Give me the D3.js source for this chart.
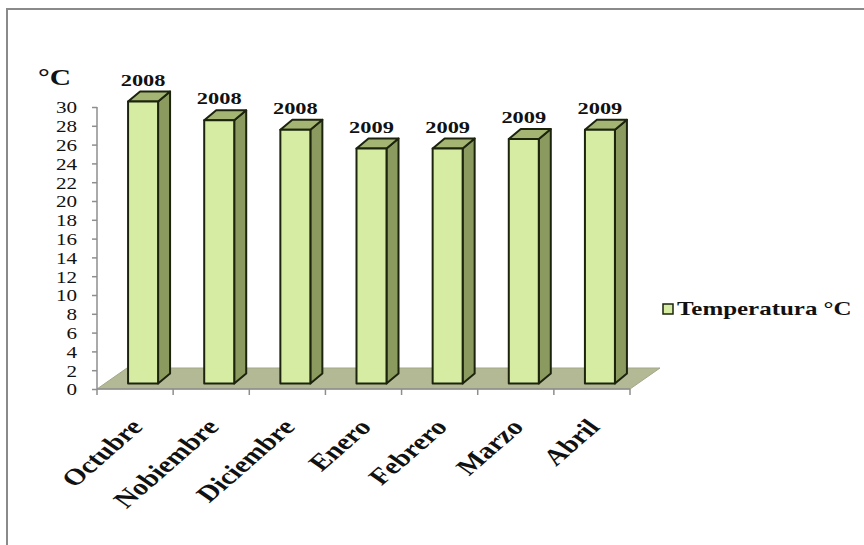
<!DOCTYPE html>
<html>
  <head>
    <meta charset="utf-8">
    <script src="https://d3js.org/d3.v7.min.js"></script>
    <style>
    body {
      margin: 0;
      background-color: #fff;
    }
    svg {
      display: block;
      font-family: "Liberation Serif", "Times New Roman", serif;
    }
    </style>
  </head>
  <body>
    <script>
      // data
      let months = ['Octubre', 'Nobiembre', 'Diciembre', 'Enero', 'Febrero', 'Marzo', 'Abril']
      let years = ['2008', '2008', '2008', '2009', '2009', '2009', '2009']
      let temps = [30, 28, 27, 25, 25, 26, 27]
      let yTicks = d3.range(0, 31, 2)
      let seriesName = 'Temperatura °C'
      let unitLabel = '°C'

      let w = 864
      let h = 545
      let sx = 1.28   // the original picture is stretched sideways
      let frontCol = '#d6eca2', sideCol = '#8b9a5f', topCol = '#a4b473'
      let floorCol = '#b3b895', edge = '#1c240e', axisCol = '#8e8e8e'

      let svg = d3.select('body').append('svg')
                  .attr('width', w)
                  .attr('height', h)

      // frame
      svg.append('rect')
         .attr('x', 7).attr('y', 9)
         .attr('width', 900).attr('height', 600)
         .attr('fill', '#fff')
         .attr('stroke', '#8a8a8a')
         .attr('stroke-width', 2)

      let x0 = 97, x1 = 630, y0 = 389, y1 = 107
      let floorD = [30, -21]
      let barD = [12, -10]
      let off = [8, -5.5]

      let xScale = d3.scaleBand()
                     .domain(months)
                     .range([x0, x1])
                     .paddingInner(0.606)
                     .paddingOuter(0.303)
      let yScale = d3.scaleLinear()
                     .domain([0, 30])
                     .range([y0, y1])

      // floor
      svg.append('polygon')
         .attr('points', [[x0, y0], [x1, y0], [x1 + floorD[0], y0 + floorD[1]], [x0 + floorD[0], y0 + floorD[1]]].join(' '))
         .attr('fill', floorCol)
         .attr('stroke', '#a3a889')
         .attr('stroke-width', 1)

      // y axis
      let yAxis = svg.append('g')
                     .attr('transform', `translate(${x0}, 0)`)
                     .call(d3.axisLeft(yScale).tickValues(yTicks).tickSize(5).tickSizeOuter(0))
      yAxis.select('.domain').attr('stroke', axisCol).attr('stroke-width', 1.5)
      yAxis.selectAll('line').attr('stroke', axisCol).attr('stroke-width', 1.5)
      yAxis.selectAll('text')
           .attr('x', -20 / sx)
           .attr('dy', '0.36em')
           .attr('transform', `scale(${sx},1)`)
           .attr('font-size', 16.5)
           .attr('font-family', '"Liberation Serif", serif')
           .attr('fill', '#111')
      yAxis.select('.domain').attr('d', `M0,${y1}V${y0}`)

      // x axis line and boundary ticks
      let step = xScale.step()
      svg.append('line')
         .attr('x1', x0).attr('x2', x1)
         .attr('y1', y0).attr('y2', y0)
         .attr('stroke', axisCol).attr('stroke-width', 1.5)
      svg.selectAll('.xtick')
         .data(d3.range(months.length + 1))
         .enter()
         .append('line')
         .attr('class', 'xtick')
         .attr('x1', d => x0 + d * step).attr('x2', d => x0 + d * step)
         .attr('y1', y0).attr('y2', y0 + 6)
         .attr('stroke', axisCol).attr('stroke-width', 1.5)

      // bars
      let bars = svg.selectAll('.bar')
                    .data(months.map((m, i) => ({m: m, v: temps[i], yr: years[i]})))
                    .enter()
                    .append('g')
                    .attr('class', 'bar')
      bars.each(function(d) {
        let g = d3.select(this)
        let bx = xScale(d.m) + off[0]
        let bw = xScale.bandwidth()
        let by = yScale(d.v) + off[1]
        let bb = yScale(0) + off[1]
        g.append('polygon')
         .attr('points', [[bx + bw, by], [bx + bw + barD[0], by + barD[1]], [bx + bw + barD[0], bb + barD[1]], [bx + bw, bb]].join(' '))
         .attr('fill', sideCol)
        g.append('polygon')
         .attr('points', [[bx, by], [bx + barD[0], by + barD[1]], [bx + bw + barD[0], by + barD[1]], [bx + bw, by]].join(' '))
         .attr('fill', topCol)
        g.append('rect')
         .attr('x', bx).attr('y', by)
         .attr('width', bw).attr('height', bb - by)
         .attr('fill', frontCol)
        g.selectAll('polygon, rect')
         .attr('stroke', edge)
         .attr('stroke-width', 2)
         .attr('stroke-linejoin', 'round')
        g.append('text')
         .attr('transform', `translate(${bx + bw / 2}, ${by + barD[1] - 6}) scale(${sx},1)`)
         .attr('text-anchor', 'middle')
         .attr('font-size', 17.5)
         .attr('font-weight', 'bold')
         .attr('fill', '#111')
         .text(d.yr)
      })

      // month labels
      svg.selectAll('.mlab')
         .data(months)
         .enter()
         .append('text')
         .attr('class', 'mlab')
         .attr('transform', d => `translate(${xScale(d) + xScale.bandwidth() / 2 + 9}, 428) scale(${sx},1) rotate(-48)`)
         .attr('text-anchor', 'end')
         .attr('font-size', 23)
         .attr('font-weight', 'bold')
         .attr('fill', '#111')
         .text(d => d)

      // unit label
      svg.append('text')
         .attr('transform', `translate(38, 85) scale(${sx},1)`)
         .attr('font-size', 23)
         .attr('font-weight', 'bold')
         .attr('fill', '#111')
         .text(unitLabel)

      // legend
      let leg = svg.append('g')
      leg.append('rect')
         .attr('x', 663).attr('y', 304)
         .attr('width', 10).attr('height', 10)
         .attr('fill', frontCol)
         .attr('stroke', edge)
         .attr('stroke-width', 1.5)
      leg.append('text')
         .attr('transform', `translate(677, 315) scale(${sx},1)`)
         .attr('font-size', 19.5)
         .attr('font-weight', 'bold')
         .attr('fill', '#111')
         .text(seriesName)
    </script>
  </body>
</html>
